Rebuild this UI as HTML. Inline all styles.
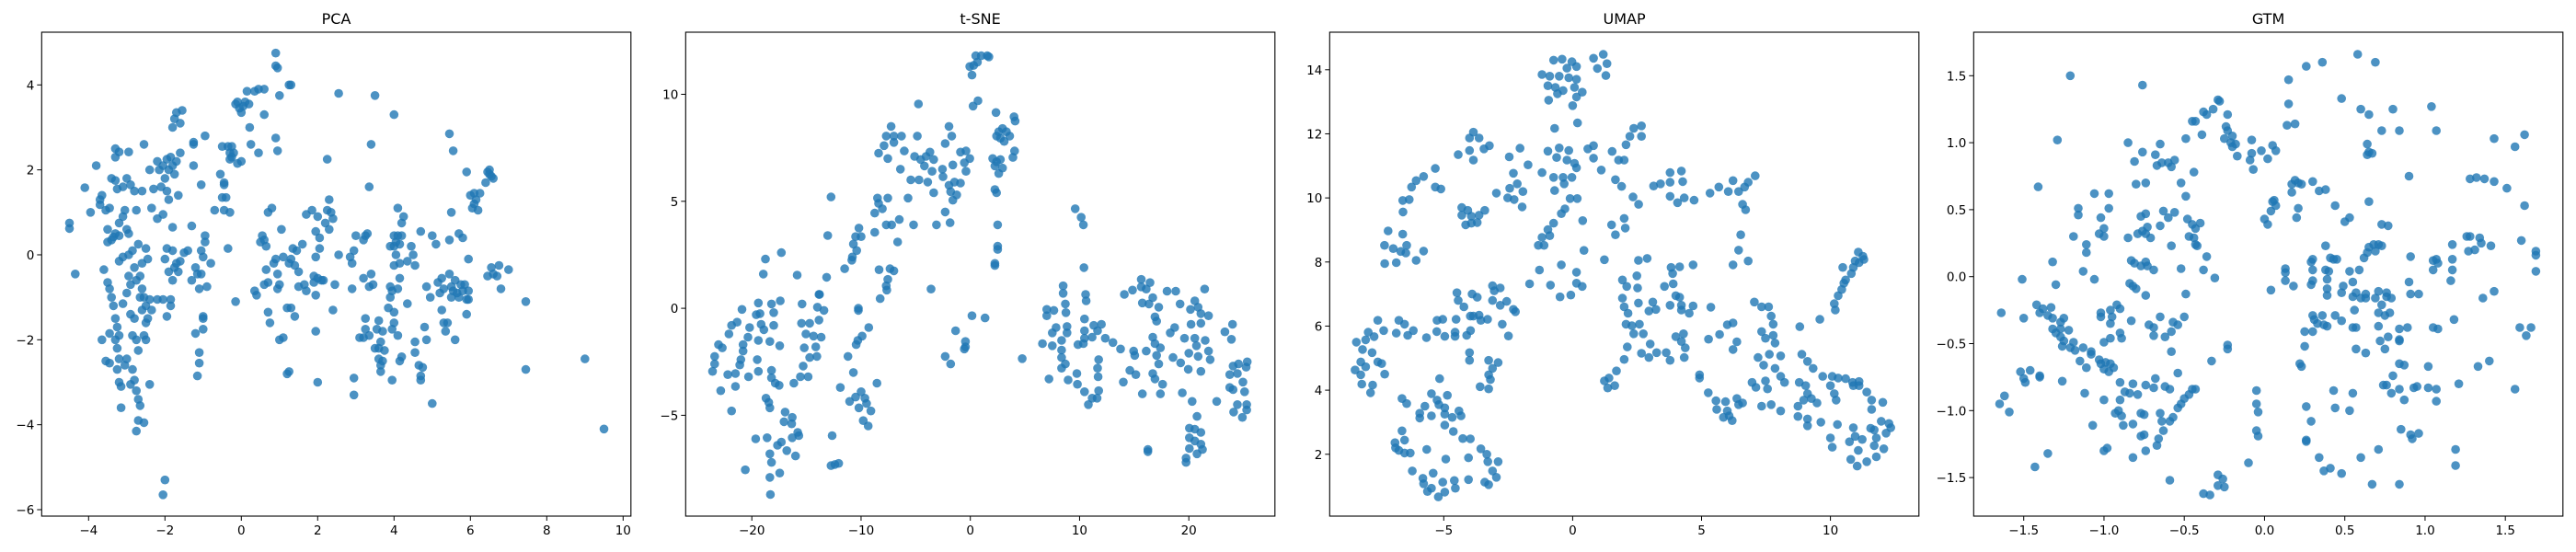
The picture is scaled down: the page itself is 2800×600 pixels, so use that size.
<!DOCTYPE html>
<html><head><meta charset="utf-8"><style>
html,body{margin:0;padding:0;background:#fff;}
svg{display:block;font-family:"DejaVu Sans","Liberation Sans",sans-serif;}
</style></head><body>
<svg id="fig" width="2800" height="600" viewBox="0 0 2800 600" xmlns="http://www.w3.org/2000/svg"></svg>
<script>
const pcaTitle = "PCA", tsneTitle = "t-SNE", umapTitle = "UMAP", gtmTitle = "GTM";
const pcaXTicks = [-4,-2,0,2,4,6,8,10];
const pcaYTicks = [-6,-4,-2,0,2,4];
const tsneXTicks = [-20,-10,0,10,20];
const tsneYTicks = [-5,0,5,10];
const umapXTicks = [-5,0,5,10];
const umapYTicks = [2,4,6,8,10,12,14];
const gtmXTicks = [-1.5,-1.0,-0.5,0.0,0.5,1.0,1.5];
const gtmYTicks = [-1.5,-1.0,-0.5,0.0,0.5,1.0,1.5];

const pcaPoints = [[-4.5,0.75],[-4.5,0.62],[-4.35,-0.45],[-4.1,1.58],[-3.95,1.0],[-3.8,2.1],[-3.7,1.3],[-3.65,1.4],[-3.7,1.18],[-3.55,1.05],[-3.45,1.1],[-3.4,1.8],[-3.3,1.75],[-3.3,2.5],[-3.3,2.3],[-3.2,2.42],[-3.25,1.55],[-3.1,1.6],[-3.0,1.8],[-2.95,2.42],[-2.9,1.65],[-2.8,1.5],[-2.6,1.5],[-2.55,2.6],[-2.4,2.0],[-2.3,1.55],[-2.2,2.2],[-2.15,2.0],[-2.05,2.1],[-2.0,1.8],[-1.95,2.25],[-1.9,2.0],[-1.85,2.3],[-1.8,2.1],[-1.75,1.9],[-1.7,2.2],[-1.65,1.4],[-1.6,2.4],[-2.1,1.6],[-1.95,1.5],[-1.9,1.3],[-2.05,0.95],[-2.2,0.85],[-1.8,3.0],[-1.75,3.2],[-1.7,3.35],[-1.55,3.4],[-1.6,3.1],
[-3.5,0.6],[-3.4,0.35],[-3.3,0.5],[-3.2,0.75],[-3.1,0.9],[-3.05,1.05],[-3.0,0.6],[-2.95,0.5],[-3.5,0.3],[-3.35,0.42],[-3.2,0.45],[-2.75,1.05],[-2.35,1.1],[-1.8,0.65],[-1.3,0.68],[-1.05,1.65],
[-3.6,-0.35],[-3.5,-0.65],[-3.45,-0.8],[-3.4,-1.0],[-3.35,-1.2],[-3.3,-1.5],[-3.25,-1.7],[-3.2,-1.9],[-3.3,-2.0],[-3.25,-2.2],[-3.2,-2.45],[-3.25,-2.7],[-3.2,-3.0],[-3.15,-3.1],[-3.15,-3.6],[-3.45,-2.55],[-3.55,-2.5],[-3.65,-2.0],[-3.45,-1.85],[-3.1,-1.15],[-3.0,-0.9],[-2.9,-0.7],[-2.95,-0.5],[-2.9,-1.4],[-2.8,-1.5],[-2.85,-1.9],[-2.75,-2.0],[-2.7,-2.25],[-2.85,-2.7],[-2.8,-2.95],[-2.75,-3.2],[-2.7,-3.4],[-2.65,-3.55],[-2.7,-3.9],[-2.55,-3.95],[-2.75,-4.15],[-3.0,-2.45],[-3.05,-2.6],[-2.9,-3.05],
[-3.2,-0.15],[-3.1,-0.05],[-2.95,0.0],[-2.85,0.1],[-2.8,-0.3],[-2.7,0.25],[-2.65,-0.5],[-2.6,-0.8],[-2.55,-1.0],[-2.5,-1.2],[-2.45,-1.5],[-2.6,-1.3],[-2.55,-1.9],[-2.5,-2.0],[-2.4,-1.05],[-2.35,-1.3],[-2.5,0.15],[-2.45,-0.1],[-2.6,-0.2],[-2.75,-0.6],[-2.65,-1.0],[-2.4,-3.05],[-2.5,-1.6],
[-2.2,-1.05],[-2.05,-1.05],[-1.85,-1.05],[-1.85,-1.2],[-1.95,-1.45],[-2.0,-0.1],[-1.95,0.15],[-1.8,0.1],[-1.9,-0.4],[-1.8,-0.6],[-1.75,-0.3],[-1.7,-0.2],[-1.65,-0.4],[-1.6,-0.15],[-1.5,0.05],[-1.4,0.1],[-1.3,-0.6],[-1.2,-0.3],[-1.15,-0.45],[-1.1,-0.8],[-1.05,-0.45],[-1.0,-1.45],[-1.0,-1.5],[-1.0,-1.75],[-1.2,-1.85],[-1.1,-2.3],[-1.1,-2.55],[-1.15,-2.85],[-1.0,-0.05],[-0.95,0.45],[-0.95,0.3],[-0.8,-0.2],[-1.05,0.1],[-0.9,-0.75],[-2.0,-5.3],[-2.05,-5.65],
[-1.25,2.65],[-1.25,2.6],[-0.95,2.8],[-1.25,2.1],[-0.55,1.9],[-0.45,1.7],[-0.45,1.65],[-0.5,1.35],[-0.4,1.35],[-0.45,1.05],[-0.3,1.0],[-0.7,1.05],[-0.5,2.55],[-0.35,2.55],[-0.3,2.4],[-0.25,2.55],[-0.25,2.3],[-0.2,2.4],[-0.3,2.25],[-0.1,2.15],[0.0,2.2],[-0.15,3.55],[-0.1,3.6],[-0.05,3.45],[0.0,3.35],[0.05,3.5],[0.1,3.6],[0.2,3.55],[0.15,3.85],[0.35,3.85],[0.45,3.9],[0.6,3.9],[0.6,3.3],[0.22,3.0],[0.25,2.6],[0.45,2.4],[0.9,4.75],[0.9,4.45],[0.95,4.4],[1.0,3.75],[0.9,2.75],[0.95,2.45],[1.25,4.0],[1.3,4.0],[2.55,3.8],[3.5,3.75],[4.0,3.3],[3.4,2.6],[3.35,1.6],[2.25,2.25],[-0.35,0.15],[-0.15,-1.1],
[0.35,-0.85],[0.4,-0.95],[0.5,0.3],[0.55,0.45],[0.6,0.35],[0.65,0.2],[0.65,-0.35],[0.6,-0.7],[0.7,-0.65],[0.7,-1.35],[0.75,-1.6],[0.7,1.0],[0.8,1.1],[0.85,-0.2],[0.9,-0.1],[0.95,-0.45],[0.95,-0.8],[1.0,-0.7],[1.05,0.6],[1.0,-2.0],[1.1,-1.95],[1.1,-0.05],[1.25,-0.2],[1.3,-0.1],[1.35,0.15],[1.4,-0.25],[1.45,0.1],[1.5,-0.4],[1.5,-0.75],[1.2,-1.25],[1.3,-1.25],[1.4,-1.45],[1.2,-2.8],[1.25,-2.75],[1.6,0.25],[1.65,-0.7],[1.7,-0.85],[1.7,0.95],[1.85,1.05],[1.95,0.55],[2.0,0.9],[2.05,0.15],[1.95,-0.05],[2.05,0.4],[1.9,-0.5],[1.9,-0.65],[2.0,-0.55],[2.1,-0.6],[2.15,-0.6],[1.95,-0.95],[1.95,-1.8],[2.0,-3.0],[2.2,0.75],[2.25,1.05],[2.3,1.3],[2.3,0.6],[2.35,1.0],[2.4,0.85],[2.4,-1.3],[2.45,-0.7],[2.55,0.0],[2.85,-0.05],[2.9,-0.2],[2.95,0.1],[2.9,-0.8],[3.0,0.45],[3.1,-1.95],[2.95,-2.9],[2.95,-3.3],[3.2,0.35],[3.25,0.45],[3.3,0.5],[3.2,-0.55],[3.35,-0.75],[3.4,-0.45],[3.45,-0.7],[3.25,-1.5],[3.25,-1.75],[3.2,-1.95],[3.35,-1.9],[3.5,-2.2],[3.6,-2.2],[3.65,-2.05],[3.6,-2.45],[3.7,-2.5],[3.65,-2.6],[3.75,-2.25],[3.6,-1.55],[3.7,-1.8],[3.55,-1.75],[3.65,-2.75],[3.95,-2.95],[3.85,-1.25],[3.9,-1.0],[3.95,-0.85],[3.9,-0.75],[4.0,-1.35],[4.0,-1.6],[3.95,-1.75],[4.1,-1.9],[4.15,-2.5],[4.2,-2.4],[4.0,0.45],[4.05,0.3],[4.0,0.2],[4.05,0.0],[4.1,0.45],[4.15,0.25],[4.2,0.45],[3.9,0.2],[4.0,-0.25],[4.15,-0.2],[4.1,-0.8],[4.15,-0.55],[4.1,1.1],[4.25,0.9],[4.2,0.75],[4.35,-0.15],[4.45,0.2],[4.5,0.0],[4.55,-0.25],[4.35,-1.15],[4.55,-2.05],[4.55,-2.3],[4.65,-2.6],[4.7,-2.85],[4.75,-2.65],[4.7,-2.95],[4.8,-1.7],[4.85,-2.0],[4.85,-0.75],[4.7,0.55],[4.95,-1.0],[5.0,0.45],[5.1,0.25],[5.0,-3.5],[5.15,-0.65],[5.2,-0.9],[5.25,-0.55],[5.3,-0.8],[5.25,-1.3],[5.3,-1.6],[5.35,-1.8],[5.4,-1.6],[5.45,-0.45],[5.5,-0.75],[5.5,-1.0],[5.55,-0.85],[5.6,-0.6],[5.65,-0.9],[5.7,-1.0],[5.75,-0.7],[5.8,-0.85],[5.85,-0.7],[5.9,-1.05],[5.95,-0.85],[5.9,-1.4],[5.95,-1.05],[5.6,-2.0],[5.45,0.35],[5.7,0.5],[5.8,0.4],[5.95,-0.1],[5.5,1.0],[5.45,2.85],[5.55,2.45],[5.9,1.95],[6.0,1.4],[6.05,1.1],[6.1,1.45],[6.15,1.3],[6.2,1.05],[6.25,1.45],[6.1,1.2],[6.4,1.7],[6.45,1.95],[6.5,2.0],[6.55,1.85],[6.6,1.8],[6.5,1.9],[6.45,-0.5],[6.55,-0.3],[6.6,-0.45],[6.7,-0.5],[6.75,-0.25],[6.8,-0.8],[7.0,-0.35],[7.45,-1.1],[7.45,-2.7],[9.0,-2.45],[9.5,-4.1]];

const tsnePoints = [[0.5,11.8],[1.0,11.8],[1.55,11.8],[1.7,11.75],[-0.05,11.3],[0.3,11.35],[0.65,11.5],[0.15,10.9],[0.25,9.45],[0.7,9.7],[-4.75,9.55],[2.35,9.15],[4.0,8.95],[4.1,8.75],[2.6,8.25],[2.95,8.4],[3.3,8.25],[3.6,8.05],[2.75,7.95],[3.1,7.8],[2.4,8.05],[4.05,7.35],[3.9,7.05],[2.05,7.0],[2.4,6.85],[2.75,6.95],[2.25,6.65],[2.95,6.55],[2.6,6.3],[2.25,5.55],[2.4,5.4],[2.5,3.9],[2.5,2.9],[2.5,2.75],[2.25,2.1],[2.25,2.0],
[-7.25,8.5],[-7.7,8.05],[-7.0,8.05],[-6.3,8.05],[-4.85,8.05],[-7.9,7.6],[-7.0,7.75],[-6.05,7.35],[-8.4,7.25],[-7.55,7.0],[-6.4,6.5],[-1.95,8.5],[-1.7,8.05],[-2.3,7.7],
[-5.1,7.1],[-4.55,6.95],[-4.05,7.1],[-3.7,7.3],[-3.35,6.95],[-4.2,6.65],[-3.5,6.4],[-2.55,6.5],[-1.6,6.7],[-0.9,7.3],[-0.4,7.35],[-0.05,7.0],[-0.55,6.8],[-0.4,6.4],[-5.45,6.0],[-4.7,6.0],[-3.9,5.9],[-2.5,6.15],[-1.95,5.75],[-1.45,5.9],[-0.9,5.85],[-1.8,5.45],[-1.25,5.3],[-1.6,5.05],[-3.35,5.4],[-5.7,5.15],[-7.55,5.15],[-8.5,5.15],[-8.4,4.9],[-8.05,4.65],[-8.75,4.45],[-6.5,4.15],[-7.7,3.9],[-7.2,3.9],[-5.2,3.9],[-3.1,3.9],[-2.3,4.5],[-1.85,4.0],[-6.65,3.1],[-8.75,3.55],[-12.75,5.2],
[-13.05,3.4],[-10.2,3.75],[-10.5,3.35],[-10.0,3.35],[-10.7,3.0],[-10.4,2.7],[-10.8,2.4],[-10.85,2.25],[-11.5,1.85],[-13.15,1.45],[-8.35,1.8],[-7.35,1.85],[-7.0,1.75],[-7.55,1.35],[-7.7,1.05],[-7.65,0.85],[-8.25,0.45],[-3.6,0.9],[-13.8,0.65],
[-17.3,2.6],[-18.75,2.3],[-18.95,1.6],[-15.85,1.55],[-20.9,-0.05],[-19.4,0.25],[-18.2,0.2],[-17.4,0.35],[-18.0,-0.2],[-19.25,-0.25],[-19.6,-0.3],[-21.35,-0.65],[-21.85,-0.8],[-22.1,-1.2],[-20.2,-0.9],[-19.15,-0.75],[-18.0,-0.8],[-18.9,-1.0],[-20.35,-1.35],[-19.4,-1.5],[-18.35,-1.55],[-17.45,-1.75],[-23.05,-1.7],[-22.7,-1.85],[-23.4,-2.25],[-23.6,-2.95],[-23.4,-2.6],[-20.8,-1.7],[-20.8,-2.0],[-21.0,-2.4],[-21.1,-2.65],[-22.2,-3.1],[-21.5,-3.05],[-20.3,-3.2],[-19.5,-2.4],[-19.4,-2.95],[-18.2,-2.9],[-18.2,-3.25],[-17.85,-3.5],[-17.5,-3.6],[-22.85,-3.85],[-21.5,-3.65],[-18.7,-4.2],[-18.45,-4.4],[-18.35,-4.65],[-21.85,-4.8],[-16.95,-4.85],[-16.3,-5.1],[-17.05,-5.3],[-16.35,-5.4],[-19.65,-6.1],[-18.6,-6.05],[-17.3,-6.25],[-17.65,-6.4],[-16.3,-6.05],[-15.7,-5.95],[-15.8,-5.8],[-18.35,-6.8],[-16.8,-6.65],[-18.2,-7.2],[-16.0,-6.9],[-20.6,-7.55],[-18.35,-7.9],[-17.45,-7.7],[-18.3,-8.7],
[-15.4,0.2],[-15.45,-0.7],[-14.7,-0.7],[-14.0,0.05],[-13.4,-0.1],[-13.85,-0.55],[-15.05,-1.2],[-14.35,-1.3],[-13.65,-1.35],[-15.2,-1.85],[-14.15,-1.8],[-14.05,-2.25],[-14.7,-2.3],[-15.3,-2.7],[-14.85,-3.2],[-15.55,-3.2],[-16.15,-3.5],[-13.85,0.65],
[-10.25,0.0],[-10.25,-0.1],[-9.3,-0.9],[-9.9,-1.3],[-10.3,-1.5],[-10.45,-1.7],[-11.2,-2.25],[-10.7,-3.0],[-11.9,-3.7],[-8.55,-3.5],[-11.05,-4.35],[-10.5,-4.15],[-10.0,-3.9],[-9.65,-4.2],[-10.2,-4.65],[-9.5,-4.45],[-9.1,-4.8],[-9.8,-5.25],[-9.35,-5.5],[-12.65,-5.95],[-12.75,-7.35],[-12.4,-7.3],[-12.05,-7.25],
[0.15,-0.35],[1.35,-0.45],[-1.35,-1.05],[-0.45,-1.55],[-0.55,-1.9],[-0.45,-1.8],[-2.3,-2.25],[-1.8,-2.6],[4.75,-2.35],
[9.6,4.65],[10.15,4.25],[10.35,3.9],[10.4,1.9],[8.5,1.05],[8.5,0.7],[8.7,0.2],[8.75,-0.2],[7.0,-0.05],[7.65,-0.1],[7.0,-0.35],[7.85,-0.9],[7.5,-1.15],[8.85,-0.85],[8.85,-1.15],[6.6,-1.65],[7.5,-1.75],[8.35,-1.5],[8.35,-1.95],[8.35,-2.3],[8.35,-2.8],[8.7,-2.6],[7.2,-3.3],[8.95,-3.35],[9.75,-3.05],[9.8,-3.55],[9.85,-1.7],[10.35,-1.65],[10.55,0.65],[10.6,0.35],[10.45,-0.5],[10.45,-1.05],[10.45,-1.4],[11.3,-0.8],[12.0,-0.75],[11.65,-1.05],[12.35,-1.4],[11.15,-1.35],[13.05,-1.6],[13.75,-1.9],[11.75,-2.4],[11.65,-2.8],[11.7,-3.2],[11.75,-3.85],[11.15,-4.2],[10.8,-4.5],[10.45,-3.9],[11.6,-4.2],
[14.1,0.65],[14.85,0.85],[15.65,1.35],[15.65,1.0],[16.1,0.9],[16.45,1.2],[16.7,0.5],[15.75,0.25],[16.35,0.2],[17.25,0.05],[16.9,-0.4],[17.05,-0.6],[14.95,-2.0],[15.05,-2.2],[16.1,-2.0],[16.7,-1.35],[16.9,-1.65],[17.4,-1.85],[17.05,-2.2],[17.25,-2.6],[14.6,-2.9],[15.15,-3.1],[14.0,-3.45],[16.7,-3.05],[16.9,-3.3],[17.6,-3.55],[17.4,-4.0],[15.75,-4.0],[16.25,-6.7],[16.25,-6.6],
[18.0,0.8],[18.8,0.8],[19.2,0.2],[20.15,-0.05],[20.55,0.35],[20.85,0.05],[21.1,-0.25],[21.8,-0.35],[21.45,0.9],[20.2,-0.75],[21.1,-0.7],[18.3,-1.15],[18.7,-0.9],[19.6,-1.4],[20.55,-1.4],[21.5,-1.5],[20.7,-1.75],[20.0,-2.1],[20.85,-2.25],[21.8,-2.0],[21.95,-2.4],[18.55,-2.3],[19.25,-2.55],[19.95,-2.85],[21.1,-2.95],[19.4,-3.95],[20.3,-4.35],[22.55,-4.35],[20.75,-5.05],[20.05,-5.6],[20.55,-5.65],[21.1,-5.8],[20.05,-6.05],[20.55,-6.2],[21.1,-6.35],[20.05,-6.55],[20.75,-6.8],[21.25,-6.6],[19.75,-7.0],[19.75,-7.2],
[23.3,-1.1],[24.0,-0.75],[23.9,-1.45],[24.05,-2.7],[24.55,-2.6],[25.35,-2.5],[25.25,-2.75],[23.75,-3.1],[24.45,-3.05],[24.95,-3.45],[23.75,-3.7],[24.05,-3.8],[25.1,-3.9],[24.45,-4.5],[25.3,-4.5],[24.1,-4.85],[24.9,-5.1],[25.3,-4.75]];

const umapPoints = [[-0.74,14.3],[-0.41,14.33],[-0.03,14.25],[0.15,14.1],[-0.22,14.05],[-1.19,13.85],[-0.89,13.8],[-0.52,13.8],[-0.15,13.75],[0.15,13.7],[-0.96,13.5],[-0.67,13.45],[-0.37,13.35],[0.07,13.45],[0.37,13.3],[0.15,13.15],[0.0,12.88],[-0.93,13.05],[-0.59,13.25],[0.81,14.36],[1.19,14.48],[1.33,14.19],[0.96,14.04],[1.29,13.82],[0.19,12.34],[-0.7,12.17],
[-3.85,12.05],[-4.0,11.87],[-3.63,11.87],[-3.23,11.63],[-3.44,11.53],[-4.0,11.48],[-3.85,11.18],[-4.44,11.35],[-5.33,10.92],[-5.78,10.67],[-6.07,10.54],[-6.25,10.34],[-6.59,9.92],[-6.34,9.95],[-6.58,9.56],[-5.33,10.34],[-5.11,10.28],[-7.16,8.97],[-7.3,8.52],[-6.96,8.42],[-6.59,8.87],[-6.44,8.52],[-6.67,8.33],[-6.84,7.98],[-7.29,7.95],[-6.07,8.05],[-5.78,8.34],[-6.47,8.28],
[-4.3,9.7],[-4.07,9.61],[-4.3,9.46],[-3.93,9.43],[-3.63,9.46],[-3.41,9.61],[-4.15,9.16],[-3.93,9.21],[-3.7,9.23],
[-2.46,11.28],[-2.04,11.55],[-1.73,11.03],[-2.3,10.77],[-2.96,10.15],[-2.44,10.3],[-2.15,10.44],[-1.93,10.2],[-2.52,10.0],[-2.27,9.95],[-1.96,9.72],[-1.19,10.79],[-0.96,11.46],[-0.52,11.56],[-0.15,11.48],[-0.62,11.26],[-0.22,11.18],[0.07,11.08],[0.15,10.94],[-0.03,10.64],[-0.37,10.64],[-0.74,10.64],[-0.33,10.44],[-0.7,10.23],[-0.1,9.98],[0.18,9.98],[0.59,11.53],[0.81,11.63],[0.81,11.24],[1.11,10.87],[1.53,11.45],[1.78,11.18],[2.0,11.18],[1.66,10.57],[1.9,10.36],[2.34,10.03],[2.56,9.8],[2.07,11.66],[2.22,11.92],[2.37,12.17],[2.67,12.25],[2.67,11.92],[2.0,9.36],[1.51,9.16],[1.66,8.85],[2.04,9.06],
[-0.96,9.01],[-0.74,9.21],[-0.89,8.82],[-1.19,8.77],[-1.33,8.52],[-1.11,8.52],[-0.44,9.51],[-0.3,9.66],[0.39,9.29],[0.44,8.36],[1.23,8.07],[-0.44,7.91],[-1.29,7.75],[-1.67,7.32],[-0.86,7.28],[-0.49,6.91],[-0.07,6.97],[0.15,7.34],[0.37,7.24],[0.15,7.68],
[3.14,10.37],[3.41,10.44],[3.78,10.79],[4.22,10.84],[3.78,10.49],[4.27,10.51],[3.78,10.05],[4.07,9.85],[4.33,10.0],[4.71,9.93],[5.33,10.15],[5.67,10.34],[6.04,10.2],[6.22,10.54],[6.44,10.2],[6.67,10.34],[6.81,10.49],[7.08,10.69],[6.59,9.8],[6.71,9.63],[6.52,8.85],[6.44,8.37],[6.22,7.91],[6.81,8.03],
[3.82,7.83],[4.15,7.85],[3.88,7.64],[4.67,7.91],[3.56,7.24],[3.9,7.32],[4.0,6.95],[4.15,6.9],[3.78,6.65],[4.22,6.65],[4.67,6.63],[4.52,6.4],[4.22,6.5],[3.11,6.75],[2.96,6.47],[3.23,6.52],[2.55,8.05],[2.89,8.11],[2.49,7.57],[1.93,7.44],[2.1,7.24],[2.52,7.19],[1.93,6.87],[2.55,6.72],[2.0,6.6],[2.15,6.4],[2.07,6.06],[2.3,6.01],[2.59,6.06],[2.74,5.76],[2.37,5.76],[2.12,5.35],[3.01,5.44],[3.26,5.17],[2.67,5.15],[2.96,5.02],[3.63,5.17],[3.78,4.93],[4.33,5.02],[4.37,5.32],[4.0,5.67],[4.3,5.76],[4.22,5.52],[2.0,4.96],[5.36,6.59],[7.05,6.75],[5.27,5.59],[5.7,5.74],[6.0,6.04],[6.22,6.1],[6.37,5.51],[6.22,5.27],[4.92,4.48],[4.92,4.38],
[1.23,4.29],[1.41,4.38],[1.63,4.14],[1.36,4.07],[1.7,4.6],
[7.33,6.6],[7.6,6.6],[7.7,6.31],[7.78,6.06],[7.33,5.83],[7.48,5.62],[7.78,5.71],[7.85,5.47],[7.19,5.02],[7.41,4.78],[7.63,5.12],[8.07,5.07],[7.85,4.68],[8.07,4.43],[8.22,4.24],[6.96,4.24],[7.11,4.09],[7.48,4.29],[7.56,4.04],[8.07,3.35],[7.33,3.5],[7.7,3.55],[5.26,3.92],[5.56,3.67],[5.59,3.4],[5.93,3.64],[6.0,3.35],[6.07,3.2],[6.19,3.05],[6.37,3.74],[6.44,3.55],[6.59,3.6],[5.85,3.15],
[8.81,5.98],[9.59,6.21],[8.89,5.12],[9.11,4.9],[9.33,4.68],[9.7,4.43],[10.07,4.43],[10.3,4.38],[10.59,4.36],[10.86,4.24],[11.11,4.27],[8.79,4.24],[9.04,4.14],[9.11,3.89],[8.96,3.69],[9.26,3.74],[9.48,3.6],[8.74,3.5],[8.74,3.18],[9.11,3.1],[9.11,2.89],[9.63,3.0],[10.0,4.14],[10.15,3.89],[10.22,3.69],[10.27,2.93],[10.89,4.14],[11.11,4.14],[11.41,3.94],[11.6,3.69],[11.6,3.4],[12.03,3.62],[10.0,2.51],[10.07,2.22],[10.74,2.39],[10.89,2.83],[10.96,2.56],[11.23,2.46],[11.08,2.12],[11.56,2.81],[11.7,2.76],[11.97,3.03],[12.27,2.96],[12.34,2.83],[12.16,2.66],[11.78,2.51],[11.7,2.27],[12.07,2.17],[11.78,1.92],[10.79,1.84],[11.04,1.63],[11.41,1.77],
[10.19,6.5],[10.15,6.7],[10.3,6.95],[10.44,7.14],[10.52,7.34],[10.59,7.44],[10.81,7.64],[10.89,7.83],[11.11,7.98],[10.96,8.03],[11.26,8.18],[11.08,8.31],[11.3,8.08],[10.48,7.83],
[-7.56,6.18],[-6.74,6.18],[-6.52,6.06],[-6.18,5.86],[-6.84,5.78],[-6.4,5.71],[-7.33,5.86],[-7.7,5.67],[-8.03,5.57],[-8.39,5.5],[-7.93,5.81],[-5.67,5.64],[-5.26,6.18],[-5.04,6.21],[-4.52,6.21],[-3.96,5.86],[-3.85,6.31],[-3.63,6.34],[-3.3,6.21],[-3.56,6.18],[-5.27,5.83],[-4.96,5.68],[-4.56,5.81],[-4.56,5.68],[-4.11,5.71],[-4.49,7.04],[-4.44,6.8],[-4.22,6.6],[-3.9,7.0],[-3.7,6.9],[-3.11,7.26],[-2.81,7.19],[-3.04,7.1],[-3.11,6.8],[-2.81,6.65],[-2.56,6.77],[-2.3,6.52],[-2.22,6.45],[-2.73,6.06],[-2.49,5.69],[-3.97,6.31],
[-8.15,5.27],[-7.78,5.17],[-8.22,4.88],[-8.44,4.63],[-8.03,4.73],[-8.22,4.48],[-8.18,4.19],[-7.76,4.16],[-7.84,3.92],[-7.56,4.88],[-7.41,4.83],[-7.29,4.5],
[-4.0,5.17],[-4.0,4.93],[-3.26,4.93],[-2.89,4.86],[-3.11,4.68],[-3.26,4.48],[-3.19,4.33],[-3.59,4.11],[-3.26,4.04],[-5.16,4.36],
[-6.62,3.74],[-6.44,3.58],[-5.93,3.28],[-5.93,3.13],[-5.73,3.5],[-5.48,3.89],[-5.26,3.69],[-5.19,3.55],[-4.96,3.45],[-4.96,3.25],[-5.48,3.2],[-4.86,3.84],[-4.67,3.15],[-4.41,3.35],[-4.33,3.2],[-4.96,2.91],[-4.63,2.71],[-4.26,2.49],[-3.97,2.48],[-6.62,2.73],[-6.52,2.44],[-6.89,2.36],[-6.74,2.12],[-6.52,2.04],[-6.3,2.04],[-6.87,2.2],[-5.66,2.15],[-4.92,1.85],[-4.04,1.89],[-3.56,2.17],[-3.33,2.0],[-3.29,1.77],[-3.11,1.48],[-2.89,1.77],[-2.96,1.28],[-3.41,1.13],[-3.26,1.05],[-6.22,1.48],[-5.81,1.25],[-5.41,1.41],[-5.78,1.08],[-5.63,0.84],[-5.48,0.94],[-5.21,0.67],[-5.04,1.13],[-4.96,0.82],[-4.59,1.18],[-4.55,0.94],[-4.04,1.21]];

const gtmPoints = [[-1.21,1.5],[-0.76,1.43],[-1.29,1.02],[-1.41,0.67],[-0.29,1.32],[-0.28,1.31],[-0.32,1.25],[-0.38,1.23],[-0.36,1.21],[-0.23,1.21],[-0.45,1.16],[-0.43,1.16],[-0.39,1.06],[-0.49,1.03],[-0.24,1.12],[-0.23,1.09],[-0.2,1.05],[-0.25,1.03],[-0.21,1.0],[-0.18,0.99],[-0.2,0.97],[-0.17,0.9],[-0.08,1.02],[-0.08,0.92],[-0.09,0.87],[-0.07,0.8],[-0.02,0.94],[0.05,0.98],[0.07,0.94],[0.02,0.88],[0.15,1.47],[0.15,1.29],[0.14,1.13],[0.19,1.14],[0.26,1.57],[0.36,1.6],[0.58,1.66],[0.69,1.6],[0.48,1.33],[0.6,1.25],[0.65,1.21],[0.8,1.25],[0.73,1.09],[0.84,1.09],[1.04,1.27],[1.07,1.09],[0.64,0.99],[0.65,0.93],[0.64,0.91],[0.67,0.92],[0.9,0.75],[1.43,1.03],[1.56,0.97],[1.62,1.06],[1.28,0.73],[1.32,0.74],[1.37,0.73],[1.43,0.71],[1.51,0.66],[1.62,0.53],
[-0.85,1.0],[-0.65,0.99],[-0.76,0.93],[-0.81,0.86],[-0.68,0.91],[-0.67,0.83],[-0.64,0.85],[-0.6,0.85],[-0.58,0.82],[-0.56,0.87],[-0.44,0.78],[-0.52,0.7],[-0.49,0.6],[-0.8,0.69],[-0.74,0.7],[-1.06,0.62],[-0.97,0.62],[-0.97,0.51],[-1.16,0.51],[-1.16,0.46],[-1.02,0.44],[-1.0,0.36],[-1.03,0.32],[-1.0,0.3],[-1.19,0.3],[-1.11,0.24],[-1.11,0.18],[-1.32,0.11],[-1.13,0.04],[-1.06,-0.02],[-1.3,-0.06],[-1.51,-0.02],[-1.64,-0.27],[-1.5,-0.31],
[-0.77,0.45],[-0.74,0.47],[-0.76,0.34],[-0.79,0.32],[-0.74,0.32],[-0.73,0.37],[-0.71,0.29],[-0.85,0.29],[-0.65,0.38],[-0.6,0.44],[-0.63,0.49],[-0.56,0.48],[-0.58,0.23],[-0.83,0.12],[-0.81,0.1],[-0.77,0.08],[-0.74,0.11],[-0.73,0.08],[-0.69,0.05],[-0.84,-0.05],[-0.82,-0.07],[-0.8,-0.09],[-0.74,-0.14],[-0.48,0.43],[-0.45,0.39],[-0.43,0.36],[-0.4,0.4],[-0.47,0.3],[-0.44,0.29],[-0.43,0.24],[-0.42,0.23],[-0.36,0.15],[-0.38,0.05],[-0.31,-0.01],[-0.52,0.06],[-0.49,-0.13],[-0.58,-0.56],
[-1.42,-0.21],[-1.38,-0.24],[-1.33,-0.23],[-1.4,-0.27],[-1.35,-0.29],[-1.32,-0.31],[-1.27,-0.34],[-1.25,-0.31],[-1.32,-0.39],[-1.27,-0.39],[-1.22,-0.4],[-1.3,-0.42],[-1.27,-0.45],[-1.25,-0.48],[-1.26,-0.52],[-1.19,-0.49],[-1.21,-0.53],[-1.18,-0.55],[-1.13,-0.53],[-1.08,-0.56],[-1.08,-0.58],[-1.15,-0.63],[-1.11,-0.68],[-1.03,-0.62],[-1.02,-0.65],[-1.0,-0.69],[-0.99,-0.64],[-0.96,-0.65],[-0.94,-0.68],[-0.97,-0.71],[-1.0,-0.49],[-0.96,-0.46],[-0.89,-0.46],[-0.9,-0.42],[-0.92,-0.21],[-1.02,-0.27],[-1.02,-0.3],[-0.96,-0.35],[-0.95,-0.3],[-0.96,-0.25],[-0.9,-0.24],[-0.83,-0.33],[-0.72,-0.36],[-0.69,-0.38],[-0.69,-0.44],[-0.65,-0.3],[-0.62,-0.45],[-0.58,-0.41],[-0.57,-0.34],[-0.54,-0.36],[-0.5,-0.3],
[-1.52,-0.71],[-1.49,-0.79],[-1.5,-0.76],[-1.46,-0.7],[-1.4,-0.74],[-1.4,-0.75],[-1.62,-0.89],[-1.65,-0.95],[-1.59,-1.01],[-1.26,-0.78],[-1.12,-0.87],[-1.0,-0.92],[-1.07,-1.11],[-0.9,-0.79],[-0.82,-0.8],[-0.84,-0.87],[-0.79,-0.88],[-0.87,-0.86],[-0.9,-0.92],[-0.91,-1.0],[-0.89,-1.04],[-0.93,-1.02],[-0.88,-1.11],[-0.82,-1.1],[-0.77,-1.02],[-0.75,-1.03],[-0.74,-0.81],[-0.69,-0.83],[-0.68,-0.76],[-0.62,-0.82],[-0.59,-0.84],[-0.54,-0.72],[-0.65,-1.02],[-0.64,-1.08],[-0.63,-1.15],[-0.66,-1.21],[-0.67,-1.26],[-0.59,-1.08],[-0.57,-1.05],[-0.54,-0.98],[-0.52,-0.95],[-0.5,-0.91],[-0.47,-0.88],[-0.45,-0.84],[-0.43,-0.84],[-0.77,-1.19],[-0.75,-1.18],[-0.74,-1.3],[-0.82,-1.35],[-1.0,-1.3],[-0.98,-1.28],[-1.35,-1.32],[-1.43,-1.42],[-0.59,-1.52],[-0.38,-1.62],[-0.34,-1.63],[-0.29,-1.56],[-0.25,-1.57],[-0.29,-1.48],[-0.26,-1.51],[-0.1,-1.39],[-0.33,-0.63],[-0.23,-0.51],[-0.23,-0.54],
[-0.05,-0.85],[-0.05,-0.95],[-0.04,-1.01],[-0.05,-1.15],[-0.04,-1.19],[0.04,-0.1],[0.13,0.06],[0.13,0.03],[0.13,-0.03],[0.18,-0.07],[0.17,0.69],[0.19,0.72],[0.21,0.7],[0.17,0.63],[0.23,0.69],[0.3,0.71],[0.34,0.64],[0.38,0.65],[0.44,0.53],[0.21,0.51],[0.2,0.44],[0.05,0.56],[0.06,0.57],[0.07,0.53],[0.04,0.49],[0.0,0.43],[0.02,0.39],[0.53,0.44],[0.5,0.41],[0.65,0.56],[0.73,0.39],[0.77,0.38],
[0.25,-0.41],[0.3,-0.41],[0.25,-0.52],[0.22,-0.65],[0.23,-0.67],[0.3,-0.29],[0.36,-0.29],[0.31,-0.32],[0.33,-0.35],[0.37,-0.36],[0.39,-0.37],[0.44,-0.29],[0.48,-0.33],[0.29,0.11],[0.3,0.05],[0.3,-0.03],[0.29,-0.06],[0.3,0.13],[0.38,0.23],[0.41,0.14],[0.43,0.13],[0.45,0.13],[0.38,0.05],[0.4,0.04],[0.39,-0.02],[0.39,-0.09],[0.39,-0.14],[0.48,-0.12],[0.49,-0.07],[0.53,0.04],[0.59,0.05],[0.55,-0.04],[0.62,0.14],[0.64,0.18],[0.65,0.22],[0.68,0.24],[0.71,0.24],[0.73,0.23],[0.69,0.19],[0.55,-0.15],[0.57,-0.12],[0.63,-0.13],[0.6,-0.16],[0.63,-0.16],[0.56,-0.25],[0.55,-0.38],[0.57,-0.38],[0.57,-0.54],[0.63,-0.57],[0.71,-0.11],[0.69,-0.16],[0.76,-0.12],[0.76,-0.15],[0.79,-0.16],[0.73,-0.21],[0.71,-0.27],[0.75,-0.29],[0.78,-0.27],[0.71,-0.37],[0.72,-0.48],[0.75,-0.54],[0.77,-0.45],[0.84,-0.39],[0.89,-0.38],[0.84,-0.47],[0.84,-0.48],[0.91,0.15],[0.9,-0.04],[0.91,-0.13],[0.96,-0.13],[0.84,-0.65],[0.87,-0.66],[0.8,-0.74],[0.76,-0.81],[0.79,-0.87],[0.84,-0.84],[0.87,-0.92],[0.93,-0.83],[0.95,-0.82],[1.02,-0.67],[1.02,-0.83],[1.07,-0.84],[1.07,-0.93],[1.05,-0.38],[1.08,-0.39],[1.05,0.12],[1.07,0.13],[1.05,0.05],[1.08,0.1],[1.17,0.24],[1.17,0.13],[1.17,0.05],[1.16,-0.03],[1.26,0.3],[1.28,0.3],[1.27,0.19],[1.31,0.2],[1.34,0.29],[1.35,0.25],[1.41,0.23],[1.6,0.27],[1.69,0.19],[1.69,0.16],[1.69,0.04],[1.43,-0.11],[1.36,-0.16],[1.18,-0.32],[1.33,-0.67],[1.4,-0.63],[1.21,-0.8],[1.56,-0.84],[1.59,-0.38],[1.63,-0.44],[1.66,-0.38],[0.85,-1.14],[0.91,-1.18],[0.92,-1.21],[0.96,-1.17],[1.19,-1.29],[1.19,-1.41],[0.71,-1.29],[0.6,-1.35],[0.67,-1.55],[0.84,-1.55],[0.34,-1.35],[0.37,-1.45],[0.41,-1.43],[0.48,-1.47],[0.26,-0.97],[0.29,-1.08],[0.26,-1.22],[0.26,-1.23],[0.43,-0.85],[0.44,-0.98],[0.53,-1.0],[0.55,-0.87],[0.74,-0.81]];

const NS = "http://www.w3.org/2000/svg";
const svg = document.getElementById('fig');
function mk(tag, attrs, parent){ const e=document.createElementNS(NS,tag); for(const k in attrs) e.setAttribute(k,attrs[k]); (parent||svg).appendChild(e); return e; }
function fmt(v, dec){ const s = v.toFixed(dec); return v < 0 ? '\u2212' + s.slice(1) : s; }

// panel geometry: axes box + calibration (value -> pixel) per axis
const AX_TOP = 35, AX_BOT = 561, AX_W = 640.5;
const panels = [
  {key:'pca', title:pcaTitle, left:45.3, pts:pcaPoints, xt:pcaXTicks, yt:pcaYTicks, dec:0, xv0:-4, xp0:96.3, xs:41.5, yv0:4, yp0:92.3, ys:46.17},
  {key:'tsne', title:tsneTitle, left:745.3, pts:tsnePoints, xt:tsneXTicks, yt:tsneYTicks, dec:0, xv0:-20, xp0:817.2, xs:11.875, yv0:10, yp0:102.5, ys:23.26},
  {key:'umap', title:umapTitle, left:1445.3, pts:umapPoints, xt:umapXTicks, yt:umapYTicks, dec:0, xv0:-5, xp0:1569.3, xs:28.02, yv0:14, yp0:75.8, ys:34.83},
  {key:'gtm', title:gtmTitle, left:2145.3, pts:gtmPoints, xt:gtmXTicks, yt:gtmYTicks, dec:1, xv0:-1.5, xp0:2199.7, xs:174.5, yv0:1.5, yp0:82.3, ys:145.6}
];

panels.forEach(p => {
  const g = mk('g', {});
  
  
  const X = v => p.xp0 + (v - p.xv0) * p.xs;
  const Y = v => p.yp0 + (p.yv0 - v) * p.ys;
  const clip = mk('clipPath', {id:'clip-'+p.key}, g);
  mk('rect', {x:p.left, y:AX_TOP, width:AX_W, height:AX_BOT-AX_TOP}, clip);
  const pg = mk('g', {'clip-path':'url(#clip-'+p.key+')'}, g);
  
  
  p.pts.forEach(d => {
    const c = mk('circle', {cx:X(d[0]).toFixed(1), cy:Y(d[1]).toFixed(1), r:4.8, fill:'#1f77b4', 'fill-opacity':0.8}, pg);
    
    
  });
  const frame = mk('rect', {x:p.left, y:AX_TOP, width:AX_W, height:AX_BOT-AX_TOP, fill:'none', stroke:'#000', 'stroke-width':1.1}, g);
  
  
  p.xt.forEach(v => {
    const x = X(v);
    mk('line', {x1:x, x2:x, y1:AX_BOT, y2:AX_BOT+5, stroke:'#000', 'stroke-width':1}, g);
    const t = mk('text', {x:x, y:AX_BOT+20, 'text-anchor':'middle', 'font-size':13.5, fill:'#000'}, g);
    t.textContent = fmt(v, p.dec);
    
    
  });
  p.yt.forEach(v => {
    const y = Y(v);
    mk('line', {x1:p.left-5, x2:p.left, y1:y, y2:y, stroke:'#000', 'stroke-width':1}, g);
    const t = mk('text', {x:p.left-8, y:y+5, 'text-anchor':'end', 'font-size':13.5, fill:'#000'}, g);
    t.textContent = fmt(v, p.dec);
    
    
  });
  const tt = mk('text', {x:p.left+AX_W/2, y:AX_TOP-9, 'text-anchor':'middle', 'font-size':16, fill:'#000'}, g);
  tt.textContent = p.title;
  
  
});
</script>
</body></html>
